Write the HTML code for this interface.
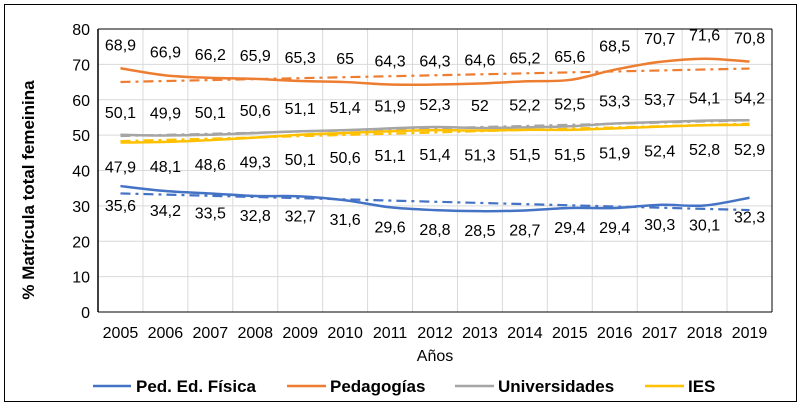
<!DOCTYPE html>
<html><head><meta charset="utf-8"><style>
body{margin:0;background:#fff;}
svg text{font-family:"Liberation Sans",Arial,sans-serif;}
</style></head><body>
<svg id="c" width="801" height="406" xmlns="http://www.w3.org/2000/svg">
<rect x="4.5" y="4.5" width="792" height="397" fill="#fff" stroke="#000" stroke-width="1"/>
<g id="grid"></g><g id="trends"></g><g id="lines"></g><g id="labels"></g><g id="axes"></g>
<text x="34" y="190" transform="rotate(-90 34 190)" text-anchor="middle" font-size="17" font-weight="bold">% Matrícula total femeinina</text>
<text x="435" y="361" text-anchor="middle" font-size="16">Años</text>
<g>
<g><line x1="93" y1="386" x2="131" y2="386" stroke="#4472C4" stroke-width="2.5"/><text x="136" y="392" font-size="17" font-weight="bold">Ped. Ed. Física</text></g>
<g><line x1="287" y1="386" x2="326" y2="386" stroke="#ED7D31" stroke-width="2.5"/><text x="330" y="392" font-size="17" font-weight="bold">Pedagogías</text></g>
<g><line x1="455" y1="386" x2="494" y2="386" stroke="#A5A5A5" stroke-width="2.5"/><text x="498" y="392" font-size="17" font-weight="bold">Universidades</text></g>
<g><line x1="645" y1="386" x2="684" y2="386" stroke="#FFC000" stroke-width="2.5"/><text x="688" y="392" font-size="17" font-weight="bold">IES</text></g>
</g>
</svg>
<script>
const years=[2005,2006,2007,2008,2009,2010,2011,2012,2013,2014,2015,2016,2017,2018,2019];
const pedEdFisica=[35.6,34.2,33.5,32.8,32.7,31.6,29.6,28.8,28.5,28.7,29.4,29.4,30.3,30.1,32.3];
const pedagogias=[68.9,66.9,66.2,65.9,65.3,65,64.3,64.3,64.6,65.2,65.6,68.5,70.7,71.6,70.8];
const universidades=[50.1,49.9,50.1,50.6,51.1,51.4,51.9,52.3,52,52.2,52.5,53.3,53.7,54.1,54.2];
const ies=[47.9,48.1,48.6,49.3,50.1,50.6,51.1,51.4,51.3,51.5,51.5,51.9,52.4,52.8,52.9];
const yTicks=[0,10,20,30,40,50,60,70,80];
const L=98,R=772,T=29,B=312,YMAX=80;
const cw=(R-L)/years.length;
const x=i=>L+cw*(i+0.5);
const y=v=>B-(v/YMAX)*(B-T);
const NS="http://www.w3.org/2000/svg";
function mk(tag,parent,attrs){const e=document.createElementNS(NS,tag);for(const k in attrs)e.setAttribute(k,attrs[k]);document.getElementById(parent).appendChild(e);return e;}
yTicks.forEach(t=>{
 const g=mk('line','grid',{x1:L,x2:R,y1:y(t),y2:y(t),stroke:'#d9d9d9','stroke-width':1});
 
 
 const tx=mk('text','axes',{x:L-8,y:y(t)+6,'text-anchor':'end','font-size':16});
 
 
 tx.textContent=t;
});
for(let i=1;i<=years.length;i++){
 const g=mk('line','grid',{x1:L+cw*i,x2:L+cw*i,y1:T,y2:B,stroke:'#d9d9d9','stroke-width':1});
 
 
}
years.forEach((yr,i)=>{
 const tx=mk('text','axes',{x:x(i),y:338,'text-anchor':'middle','font-size':16});
 
 
 tx.textContent=yr;
});
let ax=mk('line','axes',{x1:L,x2:L,y1:T,y2:B,stroke:'#000','stroke-width':1.5});


ax=mk('line','axes',{x1:L,x2:R,y1:B,y2:B,stroke:'#000','stroke-width':1});


ax=mk('line','axes',{x1:R,x2:R,y1:T,y2:B,stroke:'#000','stroke-width':1});


ax=mk('line','axes',{x1:L,x2:R,y1:T,y2:T,stroke:'#000','stroke-width':1});


function smooth(vals){
 const p=vals.map((v,i)=>[x(i),y(v)]);
 let d='M'+p[0][0]+','+p[0][1];
 for(let i=0;i<p.length-1;i++){
  const p0=p[i-1]||p[i],p1=p[i],p2=p[i+1],p3=p[i+2]||p2,k=1/6;
  d+=' C'+(p1[0]+(p2[0]-p0[0])*k)+','+(p1[1]+(p2[1]-p0[1])*k)+' '+(p2[0]-(p3[0]-p1[0])*k)+','+(p2[1]-(p3[1]-p1[1])*k)+' '+p2[0]+','+p2[1];
 }
 return d;
}
const series=[
 {name:'ped-ed-fisica',vals:pedEdFisica,color:'#4472C4',off:25},
 {name:'pedagogias',vals:pedagogias,color:'#ED7D31',off:-18},
 {name:'universidades',vals:universidades,color:'#A5A5A5',off:-17},
 {name:'ies',vals:ies,color:'#FFC000',off:30}
];
series.forEach(s=>{
 const n=s.vals.length;let sx=0,sy=0,sxy=0,sxx=0;
 s.vals.forEach((v,i)=>{sx+=i;sy+=v;sxy+=i*v;sxx+=i*i;});
 const m=(n*sxy-sx*sy)/(n*sxx-sx*sx),b=(sy-m*sx)/n;
 const tl=mk('line','trends',{x1:x(0),y1:y(b),x2:x(n-1),y2:y(b+m*(n-1)),stroke:s.color,'stroke-width':2.2,'stroke-dasharray':'10,5,3,5'});
 
 
 const pth=mk('path','lines',{d:smooth(s.vals),fill:'none',stroke:s.color,'stroke-width':2.5});
 
 
 s.vals.forEach((v,i)=>{
  const t=mk('text','labels',{x:x(i),y:y(v)+s.off,'text-anchor':'middle','font-size':16});
  
  
  t.textContent=String(v).replace('.',',');
 });
});
</script>
</body></html>
